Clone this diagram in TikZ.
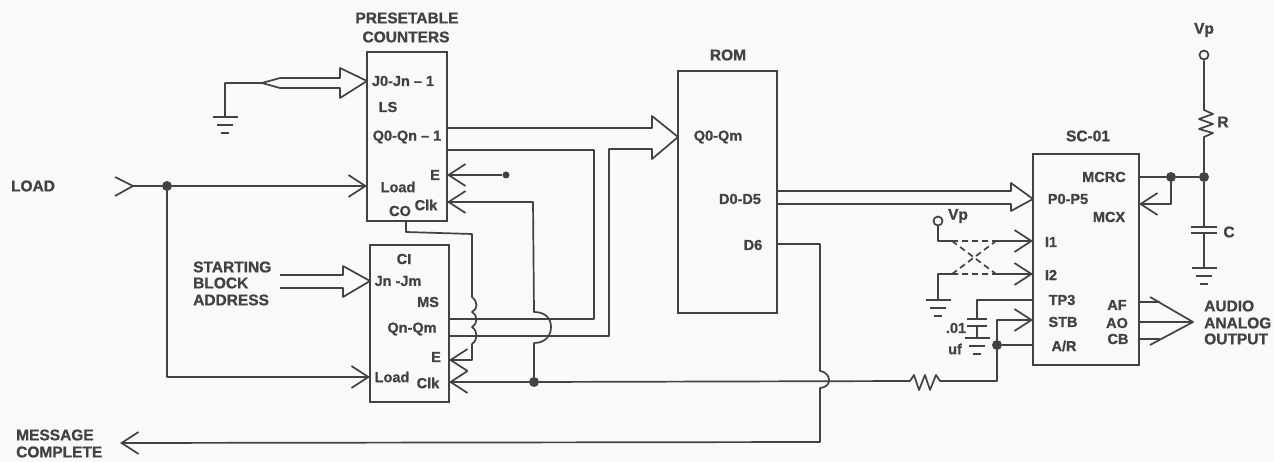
\documentclass[tikz,border=0pt]{standalone}
\usepackage{fontspec}
\setmainfont{Liberation Sans}[BoldFeatures={FakeBold=1}]
\usetikzlibrary{arrows.meta}
\definecolor{ink}{HTML}{454043}
\definecolor{paper}{HTML}{F9F9F8}
\tikzset{
  wire/.style={draw=ink,line width=1.7pt,line join=round},
  box/.style={draw=ink,line width=1.9pt,inner sep=0pt,outer sep=0pt,anchor=north west},
  lbl/.style={text=ink,font=\bfseries\fontsize{14.5}{16}\selectfont,inner sep=0pt},
  captxt/.style={text=ink,font=\bfseries\fontsize{15.5}{17}\selectfont,inner sep=0pt},
  barb/.style={-{Straight Barb[length=17pt,width=22pt,line width=1.7pt]}},
  solder/.style={circle,fill=ink,inner sep=0pt,minimum size=10pt},
  term/.style={circle,draw=ink,fill=paper,line width=1.7pt,inner sep=0pt,minimum size=9pt},
  gnd/.pic={\draw[wire] (-12.5,0)--(12.5,0) (-8,8)--(8,8) (-4,16)--(4,16);},
  dashwire/.style={wire,dash pattern=on 6pt off 4pt}
}
\begin{document}
\begin{tikzpicture}[x=1pt,y=-1pt]
\fill[paper] (0,0) rectangle (1274,462);
\useasboundingbox (0,0) rectangle (1274,462);
% boxes
\node[box,minimum width=80pt,minimum height=169pt] (cu) at (367,52) {};
\node[box,minimum width=79pt,minimum height=157pt] (cl) at (370,245) {};
\node[box,minimum width=99pt,minimum height=242pt] (rom) at (678,71) {};
\node[box,minimum width=106pt,minimum height=211pt] (sc) at (1033,154) {};
% captions
\node[captxt] (t1) at (407,18) {PRESETABLE};
\node[captxt] (t2) at (406,37) {COUNTERS};
\node[captxt] (t3) at (728,55) {ROM};
\node[captxt] (t4) at (1088,136) {SC-01};
\node[captxt] (t5) at (33,186) {LOAD};
\node[captxt,anchor=west] (t6) at (193,267) {STARTING};
\node[captxt,anchor=west] (t7) at (193,283) {BLOCK};
\node[captxt,anchor=west] (t8) at (193,300) {ADDRESS};
\node[captxt,anchor=west] (t9) at (16,435) {MESSAGE};
\node[captxt,anchor=west] (t10) at (16,452) {COMPLETE};
\node[captxt,anchor=west] (t11) at (1204,306) {AUDIO};
\node[captxt,anchor=west] (t12) at (1204,323) {ANALOG};
\node[captxt,anchor=west] (t13) at (1204,339) {OUTPUT};
\node[captxt] (t14) at (1204,30) {Vp};
\node[captxt] (t15) at (1223,122) {R};
\node[captxt] (t16) at (1229,232) {C};
\node[captxt] (t17) at (958,216) {Vp};
\node[lbl] (t18) at (956,328) {.01};
\node[lbl] (t19) at (955,349) {uf};
% upper counter pins
\node[lbl] (a1) at (403,81) {J0-Jn – 1};
\node[lbl] (a2) at (388,107) {LS};
\node[lbl] (a3) at (407,137) {Q0-Qn – 1};
\node[lbl] (a4) at (435,175) {E};
\node[lbl] (a5) at (398,187) {Load};
\node[lbl] (a6) at (400,211) {CO};
\node[lbl] (a7) at (426,205) {Clk};
% lower counter pins
\node[lbl] (b1) at (404,259) {CI};
\node[lbl] (b2) at (398,281) {Jn -Jm};
\node[lbl] (b3) at (428,302) {MS};
\node[lbl] (b4) at (412,329) {Qn-Qm};
\node[lbl] (b5) at (436,357) {E};
\node[lbl] (b6) at (392,377) {Load};
\node[lbl] (b7) at (428,383) {Clk};
% ROM pins
\node[lbl] (r1) at (718,137) {Q0-Qm};
\node[lbl] (r2) at (740,199) {D0-D5};
\node[lbl] (r3) at (753,245) {D6};
% SC-01 pins
\node[lbl] (s1) at (1104,177) {MCRC};
\node[lbl] (s2) at (1068,199) {P0-P5};
\node[lbl] (s3) at (1109,217) {MCX};
\node[lbl] (s4) at (1051,242) {I1};
\node[lbl] (s5) at (1051,275) {I2};
\node[lbl] (s6) at (1062,300) {TP3};
\node[lbl] (s7) at (1063,322) {STB};
\node[lbl] (s8) at (1064,346) {A/R};
\node[lbl] (s9) at (1117,305) {AF};
\node[lbl] (s10) at (1117,323) {AO};
\node[lbl] (s11) at (1118,339) {CB};
% junctions and terminals
\node[solder] (dload) at (167,186) {};
\node[solder] (dclk) at (534,382) {};
\node[solder] (dar) at (997,345) {};
\node[solder] (dm1) at (1171,177) {};
\node[solder] (dm2) at (1204,177) {};
\node[term] (tvp) at (1204,55) {};
\node[term] (tvp2) at (938,221) {};
\node[solder,minimum size=7pt] (dE) at (506,175) {};
% free ends
\coordinate (loadin) at (133,186);
\coordinate (g1) at (225,117);
\coordinate (g2) at (938,300);
\coordinate (g3) at (977,338);
\coordinate (g4) at (1204,268);
% J0 input bus
\draw[wire] (g1) -- (225,83) -- (262,83) -- (280,78) -- (340,78) -- (340,68) -- (cu.west |- 0,81) -- (340,98) -- (340,88) -- (280,88) -- (262,83);
\pic at (g1) {gnd};
% LOAD
\draw[wire] (115,177) -- (loadin) -- (115,196);
\draw[wire] (loadin) -- (dload);
\draw[wire,barb] (dload) -- (cu.west |- dload);
\draw[wire,barb] (dload) -- (167,377) -- (cl.west |- 0,377);
% starting block bus
\draw[wire] (280,275) -- (343,275) -- (343,266) -- (cl.west |- 0,281) -- (343,297) -- (343,288) -- (280,288);
% data buses to ROM
\draw[wire] (cu.east |- 0,128) -- (652,128) -- (652,116) -- (rom.west |- 0,137) -- (652,159) -- (652,149) -- (609,149) -- (609,336) -- (cl.east |- 0,336);
\draw[wire] (cu.east |- 0,150) -- (594,150) -- (594,319) -- (cl.east |- 0,319);
% upper E, Clk
\draw[wire,barb] (dE) -- (cu.east |- dE);
\draw[wire,barb] (dclk) -- (534,343) .. controls (546,343) and (551,335) .. (551,327) .. controls (551,319) and (546,312) .. (534,312) -- (533,202) -- (cu.east |- 0,202);
% lower Clk line with resistor to STB
\draw[wire,barb] (dclk) -- (cl.east |- dclk);
\draw[wire] (dclk) -- (910,381) -- (914,375) -- (919,390) -- (925,375) -- (930,390) -- (936,375) -- (940,381) -- (997,381) -- (dar);
\draw[wire,barb] (dar) -- (997,320) -- (sc.west |- 0,320);
\draw[wire] (dar) -- (sc.west |- dar);
% CO to lower E
\draw[wire,barb] (406,221) -- (406,232) -- (472,234) -- (472,297) .. controls (478,302) and (478,309) .. (472,312) .. controls (478,316) and (478,323) .. (472,327) .. controls (478,331) and (478,340) .. (472,344) -- (472,360) -- (cl.east |- 0,360);
% D0-D5 bus
\draw[wire] (rom.east |- 0,191) -- (1011,191) -- (1011,183) -- (sc.west |- s2) -- (1011,211) -- (1011,204) -- (rom.east |- 0,204);
% D6 to message complete
\draw[wire,barb] (rom.east |- 0,244) -- (820,244) -- (820,371) .. controls (827,372) and (829,377) .. (829,380) .. controls (829,384) and (827,387) .. (820,388) -- (820,442) -- (120,443);
% I1 I2 straps
\draw[wire] (tvp2) -- (938,241) -- (952,241);
\draw[wire] (g2) -- (938,274) -- (952,274);
\draw[wire,barb] (996,241) -- (sc.west |- 0,241);
\draw[wire,barb] (996,274) -- (sc.west |- 0,274);
\draw[dashwire] (952,241) -- (996,241) (952,274) -- (996,274) (952,241) -- (996,274) (952,274) -- (996,241);
\pic at (g2) {gnd};
% TP3 capacitor
\draw[wire] (sc.west |- 0,300) -- (977,300) -- (977,319);
\draw[wire] (967,319) -- (987,319) (967,326) -- (987,326);
\draw[wire] (977,326) -- (g3);
\pic at (g3) {gnd};
% audio outputs
\draw[wire] (sc.east |- 0,302) -- (1160,302);
\draw[wire] (sc.east |- 0,339) -- (1160,339);
\draw[wire] (sc.east |- 0,322) -- (1193,322);
\draw[wire] (1150,297) -- (1193,322) -- (1150,345);
% MCRC, R, C
\draw[wire] (sc.east |- dm1) -- (dm1) -- (dm2);
\draw[wire,barb] (dm1) -- (1171,204) -- (sc.east |- 0,204);
\draw[wire] (tvp) -- (1204,110) -- (1213,114) -- (1199,119) -- (1213,124) -- (1199,129) -- (1213,133) -- (1204,137) -- (dm2);
\draw[wire] (dm2) -- (1204,227);
\draw[wire] (1191,227) -- (1217,227) (1191,233) -- (1217,233);
\draw[wire] (1204,233) -- (g4);
\pic at (g4) {gnd};
\end{tikzpicture}
\end{document}
